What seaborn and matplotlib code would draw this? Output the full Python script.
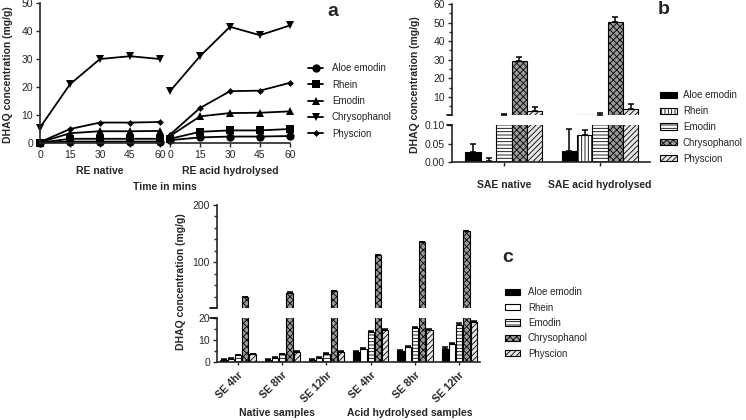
import matplotlib
matplotlib.use('Agg')
import matplotlib.pyplot as plt
from matplotlib.container import BarContainer
import seaborn as sns
import pandas as pd

sns.set_theme(style="ticks")
plt.rcParams['font.family'] = ['Liberation Sans', 'DejaVu Sans']
plt.rcParams['hatch.linewidth'] = 0.6
plt.rcParams['font.size'] = 7.5

compounds = ['Aloe emodin', 'Rhein', 'Emodin', 'Chrysophanol', 'Physcion']
times = [0, 15, 30, 45, 60]

# ---- panel a: RE kinetics (mg/g) ----
native_aloe = [0.1, 0.5, 0.5, 0.5, 0.5]
native_rhein = [0.1, 1.5, 1.5, 1.5, 1.5]
native_emodin = [0.2, 3.5, 4.2, 4.2, 4.3]
native_chrys = [5.5, 21, 30, 31, 30]
native_phys = [0.3, 5, 7.3, 7.3, 7.5]

acid_aloe = [1.0, 2.0, 2.3, 2.3, 2.5]
acid_rhein = [1.5, 4.0, 4.5, 4.5, 5.0]
acid_emodin = [2.5, 9.5, 10.7, 10.8, 11.3]
acid_chrys = [18.5, 31, 41.5, 38.5, 42]
acid_phys = [3.0, 12.5, 18.5, 18.7, 21.5]

# ---- panel b: SAE (mean, sd) ----
sae_groups = ['SAE native', 'SAE acid hydrolysed']
sae_native_mean = [0.028, 0.003, 0.5, 29.3, 2.5]
sae_native_err = [0.02, 0.007, 0.3, 2.0, 2.0]
sae_acid_mean = [0.03, 0.073, 0.4, 50.5, 3.5]
sae_acid_err = [0.06, 0.013, 1.2, 2.5, 2.5]

# ---- panel c: SE samples ----
se_ids = ['N4', 'N8', 'N12', 'A4', 'A8', 'A12']
se_labels = ['SE 4hr', 'SE 8hr', 'SE 12hr', 'SE 4hr', 'SE 8hr', 'SE 12hr']
se_aloe = [1.0, 1.0, 1.0, 4.5, 4.8, 6.0]
se_rhein = [1.5, 2.0, 2.0, 5.7, 7.0, 8.0]
se_emodin = [3.0, 3.5, 3.5, 13.5, 15.5, 17.0]
se_chrys = [39, 47, 50, 112, 135, 154]
se_phys = [3.5, 4.5, 4.5, 14.5, 14.5, 18.0]
se_err = [0.3, 0.3, 0.4, 0.5, 0.5, 0.6]

W, H = 746, 420
fig = plt.figure(figsize=(7.46, 4.2), dpi=100)


def box(x0, y0, x1, y1):
    # pixel box -> figure fraction rect
    return [x0 / W, 1 - y1 / H, (x1 - x0) / W, (y1 - y0) / H]


markers = {'Aloe emodin': 'o', 'Rhein': 's', 'Emodin': '^',
           'Chrysophanol': 'v', 'Physcion': 'D'}
black5 = ['black'] * 5
TICK = 7.5
LAB = 7.5
LEG = 7


def long_df(series):
    rows = []
    for name, vals in zip(compounds, series):
        for t, v in zip(times, vals):
            rows.append({'time': t, 'conc': v, 'compound': name})
    return pd.DataFrame(rows)


df_native = long_df([native_aloe, native_rhein, native_emodin, native_chrys, native_phys])
df_acid = long_df([acid_aloe, acid_rhein, acid_emodin, acid_chrys, acid_phys])

ax_a1 = fig.add_axes(box(40, 3, 160, 143))
ax_a2 = fig.add_axes(box(170, 3, 290, 143))
for ax, d, title in [(ax_a1, df_native, 'RE native'), (ax_a2, df_acid, 'RE acid hydrolysed')]:
    sns.lineplot(data=d, x='time', y='conc', hue='compound', style='compound',
                 hue_order=compounds, style_order=compounds, markers=markers,
                 dashes=False, palette=black5, ax=ax, linewidth=1.3,
                 markersize=6, markeredgewidth=0, clip_on=False, legend=(ax is ax_a1))
    for ln in ax.lines:
        if ln.get_marker() == 'D':
            ln.set_markersize(3.5)
    ax.set_xlim(0, 60)
    ax.set_ylim(0, 50)
    ax.set_xticks(times)
    ax.set_yticks([0, 10, 20, 30, 40, 50])
    ax.set_xlabel(title, fontsize=LAB, fontweight='bold', labelpad=4)
    ax.set_ylabel('')
    ax.tick_params(labelsize=TICK, length=3, width=1, pad=2)
    for s in ['top', 'right']:
        ax.spines[s].set_visible(False)
    for s in ['left', 'bottom']:
        ax.spines[s].set_linewidth(1.2)
ax_a2.spines['left'].set_visible(False)
ax_a2.tick_params(axis='y', left=False, labelleft=False)
fig.text(8 / W, 1 - 75 / H, 'DHAQ concentration (mg/g)', rotation=90, ha='center',
         va='center', fontsize=LAB, fontweight='bold')
fig.text(165 / W, 1 - 187 / H, 'Time in mins', ha='center', va='center',
         fontsize=LAB, fontweight='bold')

handles, labels = ax_a1.get_legend_handles_labels()
ax_a1.get_legend().remove()
for h in handles:
    if h.get_marker() == 'D':
        h.set_markersize(3.5)
fig.legend(handles, labels, loc='center left', bbox_to_anchor=(308 / W, 1 - 101 / H),
           frameon=False, fontsize=LEG, handlelength=1.55, labelspacing=0.65,
           handletextpad=0.9, borderpad=0, borderaxespad=0)
fig.text(333 / W, 1 - 12 / H, 'a', fontsize=14, fontweight='bold', ha='center', va='center')

# ---- bar styles ----
bar_face = ['black', 'white', 'white', '#9a9a9a', '#e6e6e6']
bar_hatch = [None, '|||||', '-----', 'xxxxx', '//////']


def style_bars(ax, hatches, errs):
    # hatch the seaborn bars and add one-sided SD bars visible in this axis segment
    lo, hi = ax.get_ylim()
    bars = [c for c in ax.containers if isinstance(c, BarContainer)]
    for i, cont in enumerate(bars):
        for j, p in enumerate(cont.patches):
            if hatches[i]:
                p.set_hatch(hatches[i])
            e = errs[i][j]
            top = p.get_height()
            if top + e < lo or top > hi:
                continue
            ax.errorbar(p.get_x() + p.get_width() / 2, top,
                        yerr=[[0], [e]], fmt='none', ecolor='black',
                        elinewidth=1.1, capsize=2.5, capthick=1.1)
    return bars


def break_marks(ax_top, ax_bot):
    ax_top.plot([-0.025, 0.0], [0, 0], transform=ax_top.transAxes, color='black',
                lw=1.2, clip_on=False)
    ax_bot.plot([-0.025, 0.0], [1, 1], transform=ax_bot.transAxes, color='black',
                lw=1.2, clip_on=False)


# ---- panel b ----
rows = []
for g, means in zip(sae_groups, [sae_native_mean, sae_acid_mean]):
    for c, m in zip(compounds, means):
        rows.append({'group': g, 'compound': c, 'value': m})
df_b = pd.DataFrame(rows)
b_errs = [[sae_native_err[i], sae_acid_err[i]] for i in range(5)]

ax_b1 = fig.add_axes(box(452, 4, 650, 115))
ax_b2 = fig.add_axes(box(452, 125, 650, 162))
b_bars = None
for ax, ylim in ((ax_b1, (0.3, 60)), (ax_b2, (0, 0.10))):
    sns.barplot(data=df_b, x='group', y='value', hue='compound', hue_order=compounds,
                palette=bar_face, width=0.8, errorbar=None, ax=ax, legend=False,
                edgecolor='black', linewidth=0.8, saturation=1)
    ax.set_ylim(*ylim)
    bars = style_bars(ax, bar_hatch, b_errs)
    if b_bars is None:
        b_bars = bars
    ax.set_xlim(-0.54, 1.52)
    ax.set_xlabel('')
    ax.set_ylabel('')
    for s in ['top', 'right']:
        ax.spines[s].set_visible(False)
    ax.spines['left'].set_linewidth(1.2)
    ax.tick_params(labelsize=TICK, length=3, width=1, pad=2)
ax_b1.set_yticks([10, 20, 30, 40, 50, 60])
ax_b1.set_yticks([5, 15, 25, 35, 45, 55], minor=True)
ax_b1.tick_params(axis='y', which='minor', length=2)
ax_b1.spines['bottom'].set_visible(False)
ax_b1.tick_params(axis='x', bottom=False, labelbottom=False)
ax_b2.set_yticks([0.0, 0.05, 0.10])
ax_b2.set_yticklabels(['0.00', '0.05', '0.10'])
ax_b2.spines['bottom'].set_linewidth(1.2)
ax_b2.set_xticks([0, 1])
ax_b2.set_xticklabels(sae_groups, fontsize=LAB, fontweight='bold')
ax_b2.tick_params(axis='x', pad=10)
break_marks(ax_b1, ax_b2)
fig.text(415 / W, 1 - 85 / H, 'DHAQ concentration (mg/g)', rotation=90, ha='center',
         va='center', fontsize=LAB, fontweight='bold')
ax_b1.legend(b_bars, compounds, loc='center left',
             bbox_to_anchor=(660 / W, 1 - 127 / H), bbox_transform=fig.transFigure,
             frameon=False, fontsize=LEG, handlelength=1.75, handleheight=0.6,
             labelspacing=0.6, handletextpad=0.6, borderpad=0, borderaxespad=0)
fig.text(664 / W, 1 - 10 / H, 'b', fontsize=14, fontweight='bold', ha='center', va='center')

# ---- panel c ----
rows = []
for c, vals in zip(compounds, [se_aloe, se_rhein, se_emodin, se_chrys, se_phys]):
    for sid, v in zip(se_ids, vals):
        rows.append({'sample': sid, 'compound': c, 'value': v})
df_c = pd.DataFrame(rows)
c_errs = [se_err] * 5
c_hatch = [None, None, '-----', 'xxxxx', '//////']

ax_c1 = fig.add_axes(box(217, 205, 480, 308))
ax_c2 = fig.add_axes(box(217, 318, 480, 362))
c_bars = None
for ax, ylim in ((ax_c1, (20, 200)), (ax_c2, (0, 20))):
    sns.barplot(data=df_c, x='sample', y='value', hue='compound', hue_order=compounds,
                order=se_ids, palette=bar_face, width=0.82, gap=0.15, errorbar=None,
                ax=ax, legend=False, edgecolor='black', linewidth=0.8, saturation=1)
    ax.set_ylim(*ylim)
    bars = style_bars(ax, c_hatch, c_errs)
    if c_bars is None:
        c_bars = bars
    ax.set_xlim(-0.475, 5.47)
    ax.set_xlabel('')
    ax.set_ylabel('')
    for s in ['top', 'right']:
        ax.spines[s].set_visible(False)
    ax.spines['left'].set_linewidth(1.2)
    ax.tick_params(labelsize=TICK, length=3, width=1, pad=2)
ax_c1.set_yticks([100, 200])
ax_c1.set_yticks([40, 60, 80, 120, 140, 160, 180], minor=True)
ax_c1.tick_params(axis='y', which='minor', length=2)
ax_c1.spines['bottom'].set_visible(False)
ax_c1.tick_params(axis='x', bottom=False, labelbottom=False)
ax_c2.set_yticks([0, 10, 20])
ax_c2.set_yticks([5, 15], minor=True)
ax_c2.tick_params(axis='y', which='minor', length=2)
ax_c2.spines['bottom'].set_linewidth(1.2)
ax_c2.set_xticks(range(len(se_ids)))
ax_c2.set_xticklabels(se_labels, rotation=45, ha='right', rotation_mode='anchor',
                      fontsize=LAB, fontweight='bold')
ax_c2.tick_params(axis='x', length=2, pad=4)
break_marks(ax_c1, ax_c2)
fig.text(181 / W, 1 - 282 / H, 'DHAQ concentration (mg/g)', rotation=90, ha='center',
         va='center', fontsize=LAB, fontweight='bold')
fig.text(277 / W, 1 - 413 / H, 'Native samples', ha='center', va='center',
         fontsize=LAB, fontweight='bold')
fig.text(410 / W, 1 - 413 / H, 'Acid hydrolysed samples', ha='center', va='center',
         fontsize=LAB, fontweight='bold')
ax_c1.legend(c_bars, compounds, loc='center left',
             bbox_to_anchor=(505 / W, 1 - 323 / H), bbox_transform=fig.transFigure,
             frameon=False, fontsize=LEG, handlelength=1.55, handleheight=0.6,
             labelspacing=0.55, handletextpad=0.8, borderpad=0, borderaxespad=0)
fig.text(508 / W, 1 - 258 / H, 'c', fontsize=14, fontweight='bold', ha='center', va='center')

fig.savefig('out.png', dpi=100)
